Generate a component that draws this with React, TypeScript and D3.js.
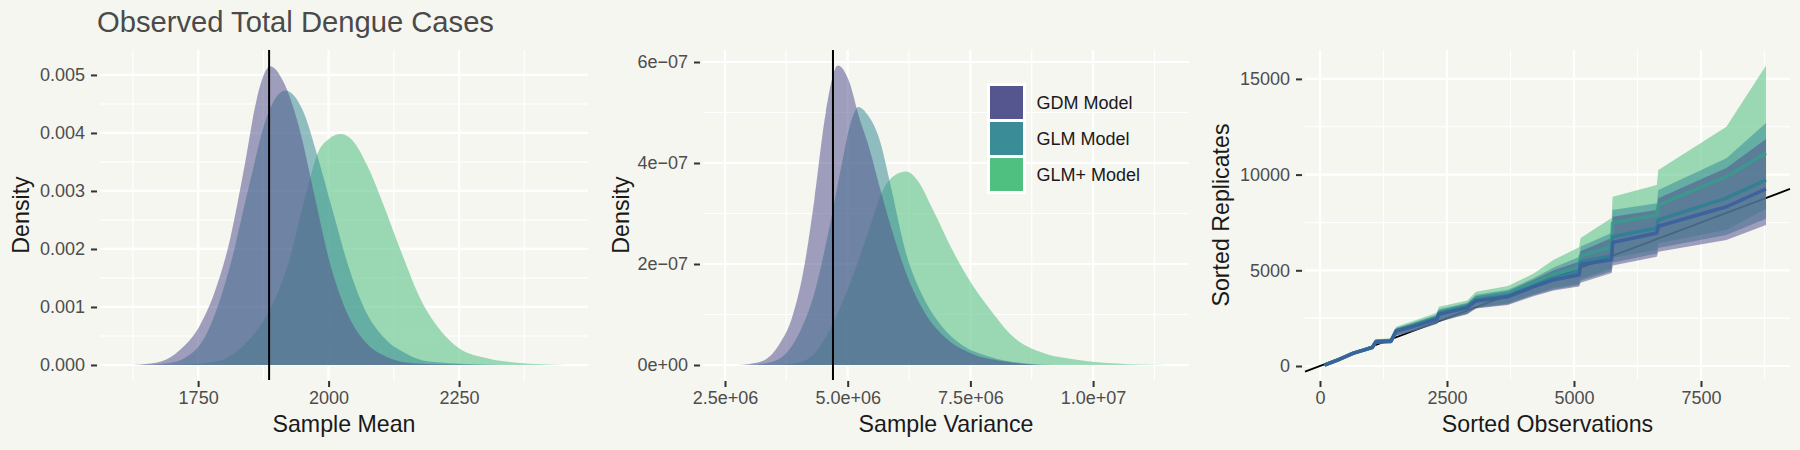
import React from "react";
import * as d3 from "d3";

const WIDTH = 1800;
const HEIGHT = 450;
const BACKGROUND = "#f6f6f1";
const FONT = "'Liberation Sans', Arial, Helvetica, sans-serif";

const modelNames = ["GDM Model", "GLM Model", "GLM+ Model"];
const modelColors = ["#55568f", "#3a8c96", "#4fc080"];
const medianColors = ["#3b5f9c", "#2f7f95", "#3b9a8e"];
const FILL_ALPHA = 0.55;

// Replicated sample mean densities: [mean, density]
const meanGdm = [
  [1609, 0], [1640, 0.00001], [1679, 0.00006], [1715, 0.00026], [1752, 0.00066],
  [1781, 0.00124], [1811, 0.00216], [1840, 0.00348], [1862, 0.00457], [1888, 0.00515],
  [1913, 0.00489], [1943, 0.00411], [1972, 0.00296], [2001, 0.00181], [2030, 0.00101],
  [2067, 0.00043], [2104, 0.00017], [2162, 0.00003], [2290, 0],
];
const meanGlm = [
  [1640, 0], [1690, 0.00003], [1720, 0.0001], [1767, 0.00055], [1811, 0.0017],
  [1847, 0.00307], [1884, 0.00434], [1917, 0.00473], [1950, 0.0044], [1979, 0.00359],
  [2009, 0.00262], [2038, 0.0017], [2067, 0.001], [2104, 0.00049], [2148, 0.0002],
  [2192, 0.00006], [2330, 0],
];
const meanGlmPlus = [
  [1700, 0], [1780, 0.00005], [1847, 0.00043], [1884, 0.0009], [1921, 0.0017],
  [1957, 0.00296], [1979, 0.00365], [2001, 0.0039], [2023, 0.00398], [2045, 0.00388],
  [2075, 0.00342], [2104, 0.00279], [2140, 0.00193], [2177, 0.00112], [2214, 0.0006],
  [2250, 0.00029], [2302, 0.00012], [2360, 0.00004], [2459, 0],
];
const observedMean = 1886;

// Replicated sample variance densities: [variance, density]
const varGdm = [
  [2.75e6, 0], [3.0e6, 0.02e-7], [3.31e6, 0.1e-7], [3.62e6, 0.43e-7], [3.85e6, 0.89e-7],
  [4.09e6, 1.82e-7], [4.32e6, 3.27e-7], [4.55e6, 4.98e-7], [4.8e6, 5.93e-7], [5.02e6, 5.64e-7],
  [5.25e6, 4.85e-7], [5.41e6, 4.39e-7], [5.65e6, 3.53e-7], [5.88e6, 2.74e-7], [6.19e6, 1.82e-7],
  [6.58e6, 1.02e-7], [6.97e6, 0.56e-7], [7.52e6, 0.23e-7], [8.22e6, 0.07e-7], [8.9e6, 0],
];
const varGlm = [
  [3.0e6, 0], [3.3e6, 0.03e-7], [3.62e6, 0.13e-7], [4.01e6, 0.63e-7], [4.32e6, 1.42e-7],
  [4.63e6, 2.74e-7], [4.87e6, 3.93e-7], [5.06e6, 4.79e-7], [5.22e6, 5.11e-7], [5.41e6, 4.95e-7],
  [5.65e6, 4.46e-7], [5.88e6, 3.53e-7], [6.19e6, 2.21e-7], [6.5e6, 1.42e-7], [6.82e6, 0.89e-7],
  [7.28e6, 0.43e-7], [7.91e6, 0.16e-7], [8.53e6, 0.04e-7], [9.2e6, 0],
];
const varGlmPlus = [
  [3.5e6, 0], [4.0e6, 0.05e-7], [4.32e6, 0.23e-7], [4.63e6, 0.69e-7], [5.02e6, 1.55e-7],
  [5.41e6, 2.61e-7], [5.72e6, 3.47e-7], [5.96e6, 3.76e-7], [6.19e6, 3.83e-7], [6.42e6, 3.66e-7],
  [6.74e6, 3.07e-7], [7.13e6, 2.28e-7], [7.52e6, 1.62e-7], [7.91e6, 1.09e-7], [8.37e6, 0.56e-7],
  [8.92e6, 0.26e-7], [9.7e6, 0.1e-7], [10.48e6, 0.03e-7], [11.5e6, 0],
];
const observedVariance = 4.7e6;

// Sorted observations against sorted replicate quantiles (lower / median / upper)
const sortedObs = [90, 350, 650, 1030, 1100, 1400, 1500, 1850, 2300, 2340, 2900, 3070, 3700, 4200, 4600, 5100, 5130, 5740, 5760, 6630, 6660, 8000, 8780];
const gdmLo = [30, 260, 590, 880, 1150, 1180, 1580, 1820, 2200, 2300, 2700, 3000, 3190, 3650, 3950, 4150, 4350, 4860, 5250, 5710, 5970, 6580, 7370];
const gdmMed = [50, 310, 660, 960, 1260, 1300, 1820, 2080, 2450, 2700, 3050, 3400, 3620, 4130, 4500, 4750, 5300, 5550, 6450, 6950, 7300, 8320, 9250];
const gdmHi = [70, 360, 720, 1030, 1360, 1400, 1950, 2240, 2620, 2900, 3250, 3650, 3900, 4500, 5000, 5450, 6000, 6690, 7800, 8150, 8770, 10340, 11860];
const glmLo = [32, 265, 595, 890, 1160, 1190, 1600, 1840, 2220, 2330, 2730, 3030, 3230, 3700, 4000, 4220, 4450, 4950, 5400, 5880, 6170, 6840, 7700];
const glmMed = [52, 315, 665, 970, 1270, 1310, 1840, 2100, 2480, 2740, 3100, 3450, 3680, 4200, 4600, 4900, 5450, 5750, 6750, 7210, 7630, 8770, 9720];
const glmHi = [75, 370, 730, 1045, 1380, 1420, 1990, 2290, 2680, 2960, 3300, 3720, 3980, 4580, 5150, 5700, 6250, 6950, 8150, 8500, 9200, 10850, 12700];
const glmpLo = [35, 270, 600, 900, 1170, 1200, 1620, 1860, 2240, 2360, 2760, 3070, 3270, 3750, 4080, 4300, 4550, 5100, 5640, 6060, 6420, 7100, 8200];
const glmpMed = [55, 320, 675, 980, 1290, 1330, 1860, 2130, 2520, 2800, 3150, 3530, 3780, 4330, 4800, 5150, 5750, 6230, 7470, 7890, 8410, 9890, 11130];
const glmpHi = [80, 380, 740, 1060, 1400, 1450, 2050, 2370, 2780, 3100, 3420, 3880, 4180, 4820, 5550, 6200, 6690, 7730, 8840, 9460, 10240, 12500, 15700];

// Axis ticks and labels
const meanTicks = [1750, 2000, 2250];
const meanMinor = [1625, 1875, 2125, 2375];
const meanDensityTicks = [0, 0.001, 0.002, 0.003, 0.004, 0.005];
const meanDensityLabels = ["0.000", "0.001", "0.002", "0.003", "0.004", "0.005"];
const meanDensityMinor = [0.0005, 0.0015, 0.0025, 0.0035, 0.0045];

const varTicks = [2.5e6, 5e6, 7.5e6, 1e7];
const varLabels = ["2.5e+06", "5.0e+06", "7.5e+06", "1.0e+07"];
const varMinor = [3.75e6, 6.25e6, 8.75e6, 1.125e7];
const varDensityTicks = [0, 2e-7, 4e-7, 6e-7];
const varDensityLabels = ["0e+00", "2e\u221207", "4e\u221207", "6e\u221207"];
const varDensityMinor = [1e-7, 3e-7, 5e-7];

const obsTicks = [0, 2500, 5000, 7500];
const obsMinor = [1250, 3750, 6250, 8750];
const repTicks = [0, 5000, 10000, 15000];
const repMinor = [2500, 7500, 12500];

const PANEL_TOP = 50;
const PANEL_BOTTOM = 380;

const panels = [
  {
    left: 100, right: 588, titleX: 29,
    xDomain: [1562, 2497], yDomain: [-0.000259, 0.00543],
    xTicks: meanTicks, xLabels: meanTicks.map(String), xMinor: meanMinor,
    yTicks: meanDensityTicks, yLabels: meanDensityLabels, yMinor: meanDensityMinor,
    xTitle: "Sample Mean", yTitle: "Density",
  },
  {
    left: 703, right: 1189, titleX: 629,
    xDomain: [2.052e6, 11.954e6], yDomain: [-0.297e-7, 6.238e-7],
    xTicks: varTicks, xLabels: varLabels, xMinor: varMinor,
    yTicks: varDensityTicks, yLabels: varDensityLabels, yMinor: varDensityMinor,
    xTitle: "Sample Variance", yTitle: "Density",
  },
  {
    left: 1305, right: 1790, titleX: 1229,
    xDomain: [-295, 9252], yDomain: [-731, 16510],
    xTicks: obsTicks, xLabels: obsTicks.map(String), xMinor: obsMinor,
    yTicks: repTicks, yLabels: repTicks.map(String), yMinor: repMinor,
    xTitle: "Sorted Observations", yTitle: "Sorted Replicates",
  },
];

function drawGrid(svg, p) {
  const x = d3.scaleLinear().domain(p.xDomain).range([p.left, p.right]);
  const y = d3.scaleLinear().domain(p.yDomain).range([PANEL_BOTTOM, PANEL_TOP]);
  const g = svg.append("g");
  g.selectAll(".vminor").data(p.xMinor).enter().append("line")
    .attr("x1", (d) => x(d)).attr("x2", (d) => x(d))
    .attr("y1", PANEL_TOP).attr("y2", PANEL_BOTTOM)
    .attr("stroke", "#ffffff").attr("stroke-width", 1.1);
  g.selectAll(".hminor").data(p.yMinor).enter().append("line")
    .attr("x1", p.left).attr("x2", p.right)
    .attr("y1", (d) => y(d)).attr("y2", (d) => y(d))
    .attr("stroke", "#ffffff").attr("stroke-width", 1.1);
  g.selectAll(".vmajor").data(p.xTicks).enter().append("line")
    .attr("x1", (d) => x(d)).attr("x2", (d) => x(d))
    .attr("y1", PANEL_TOP).attr("y2", PANEL_BOTTOM)
    .attr("stroke", "#ffffff").attr("stroke-width", 2.2);
  g.selectAll(".hmajor").data(p.yTicks).enter().append("line")
    .attr("x1", p.left).attr("x2", p.right)
    .attr("y1", (d) => y(d)).attr("y2", (d) => y(d))
    .attr("stroke", "#ffffff").attr("stroke-width", 2.2);
  return { x, y };
}

function drawAxes(svg, p, x, y) {
  const xAxis = d3.axisBottom(x)
    .tickValues(p.xTicks)
    .tickFormat((d, i) => p.xLabels[i])
    .tickSize(6)
    .tickPadding(4);
  const xg = svg.append("g")
    .attr("transform", `translate(0, ${PANEL_BOTTOM + 1})`)
    .call(xAxis);
  xg.select(".domain").remove();
  xg.selectAll("line").attr("stroke", "#333333").attr("stroke-width", 2);
  xg.selectAll("text")
    .attr("fill", "#4d4d4d")
    .attr("font-family", FONT)
    .attr("font-size", 18);

  const yAxis = d3.axisLeft(y)
    .tickValues(p.yTicks)
    .tickFormat((d, i) => p.yLabels[i])
    .tickSize(6)
    .tickPadding(6);
  const yg = svg.append("g")
    .attr("transform", `translate(${p.left - 3}, 0)`)
    .call(yAxis);
  yg.select(".domain").remove();
  yg.selectAll("line").attr("stroke", "#333333").attr("stroke-width", 2);
  yg.selectAll("text")
    .attr("fill", "#4d4d4d")
    .attr("font-family", FONT)
    .attr("font-size", 18);

  svg.append("text")
    .attr("x", (p.left + p.right) / 2)
    .attr("y", 432)
    .attr("text-anchor", "middle")
    .attr("font-family", FONT)
    .attr("font-size", 23.2)
    .attr("fill", "#1a1a1a")
    .text(p.xTitle);
  svg.append("text")
    .attr("transform", `translate(${p.titleX}, ${(PANEL_TOP + PANEL_BOTTOM) / 2}) rotate(-90)`)
    .attr("text-anchor", "middle")
    .attr("font-family", FONT)
    .attr("font-size", 23.2)
    .attr("fill", "#1a1a1a")
    .text(p.yTitle);
}

function drawDensities(svg, x, y, curves, observed) {
  const area = d3.area()
    .x((d) => x(d[0]))
    .y0(y(0))
    .y1((d) => y(d[1]))
    .curve(d3.curveMonotoneX);
  // GLM+ underneath, GDM on top
  [2, 1, 0].forEach((k) => {
    svg.append("path")
      .attr("d", area(curves[k]))
      .attr("fill", modelColors[k])
      .attr("fill-opacity", FILL_ALPHA);
  });
  svg.append("line")
    .attr("x1", x(observed)).attr("x2", x(observed))
    .attr("y1", PANEL_TOP).attr("y2", PANEL_BOTTOM)
    .attr("stroke", "#000000").attr("stroke-width", 2);
}

const App = () => {
  const svgRef = React.useRef(null);

  React.useEffect(() => {
    const svg = d3.select(svgRef.current);
    svg.selectAll("*").remove();

    svg.append("rect")
      .attr("width", WIDTH).attr("height", HEIGHT)
      .attr("fill", BACKGROUND);

    // Panel 1: sample mean
    const p1 = panels[0];
    const s1 = drawGrid(svg, p1);
    drawDensities(svg, s1.x, s1.y, [meanGdm, meanGlm, meanGlmPlus], observedMean);
    drawAxes(svg, p1, s1.x, s1.y);

    svg.append("text")
      .attr("x", 97).attr("y", 32)
      .attr("font-family", FONT)
      .attr("font-size", 29.2)
      .attr("fill", "#4a4a4a")
      .text("Observed Total Dengue Cases");

    // Panel 2: sample variance
    const p2 = panels[1];
    const s2 = drawGrid(svg, p2);
    drawDensities(svg, s2.x, s2.y, [varGdm, varGlm, varGlmPlus], observedVariance);
    drawAxes(svg, p2, s2.x, s2.y);

    // Legend
    const legend = svg.append("g").attr("transform", "translate(988.5, 84.5)");
    modelNames.forEach((name, i) => {
      legend.append("rect")
        .attr("x", 0).attr("y", i * 36)
        .attr("width", 36).attr("height", 36)
        .attr("fill", modelColors[i])
        .attr("stroke", "#ffffff").attr("stroke-width", 3);
      legend.append("text")
        .attr("x", 48).attr("y", i * 36 + 24)
        .attr("font-family", FONT)
        .attr("font-size", 18)
        .attr("fill", "#1a1a1a")
        .text(name);
    });

    // Panel 3: sorted replicates vs sorted observations
    const p3 = panels[2];
    const s3 = drawGrid(svg, p3);
    const x3 = s3.x;
    const y3 = s3.y;
    svg.append("line")
      .attr("x1", x3(p3.xDomain[0])).attr("y1", y3(p3.xDomain[0]))
      .attr("x2", x3(p3.xDomain[1])).attr("y2", y3(p3.xDomain[1]))
      .attr("stroke", "#000000").attr("stroke-width", 1.8);

    const bands = [
      { lo: gdmLo, med: gdmMed, hi: gdmHi },
      { lo: glmLo, med: glmMed, hi: glmHi },
      { lo: glmpLo, med: glmpMed, hi: glmpHi },
    ];
    const ribbon = d3.area()
      .x((d, i) => x3(sortedObs[i]))
      .y0((d) => y3(d[0]))
      .y1((d) => y3(d[1]));
    const medLine = d3.line()
      .x((d, i) => x3(sortedObs[i]))
      .y((d) => y3(d));
    [2, 1, 0].forEach((k) => {
      const b = bands[k];
      svg.append("path")
        .attr("d", ribbon(b.lo.map((v, i) => [v, b.hi[i]])))
        .attr("fill", modelColors[k])
        .attr("fill-opacity", FILL_ALPHA);
    });
    [2, 1, 0].forEach((k) => {
      svg.append("path")
        .attr("d", medLine(bands[k].med))
        .attr("fill", "none")
        .attr("stroke", medianColors[k])
        .attr("stroke-opacity", 0.9)
        .attr("stroke-width", 3.5)
        .attr("stroke-linejoin", "round");
    });
    drawAxes(svg, p3, x3, y3);
  }, []);

  return (
    <svg
      ref={svgRef}
      width={WIDTH}
      height={HEIGHT}
      style={{ position: "absolute", left: 0, top: 0, display: "block" }}
    />
  );
};

export default App;
